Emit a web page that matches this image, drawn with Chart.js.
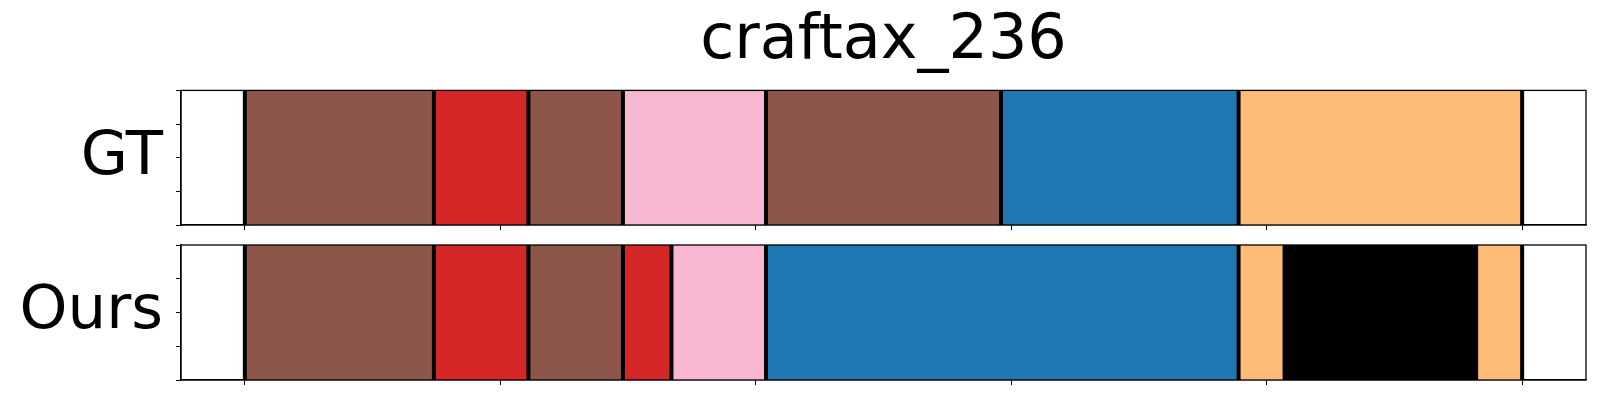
<!DOCTYPE html>
<html>
<head>
<meta charset="utf-8">
<title>craftax_236</title>
<script src="https://cdn.jsdelivr.net/npm/chart.js@4"></script>
<style>
  body { margin: 0; background: #fff; }
  #wrap { position: relative; width: 1600px; height: 400px; }
  #wrap canvas { position: absolute; left: 0; }
  #gtChart { top: 0; }
  #oursChart { top: 235px; }
</style>
</head>
<body>
<div id="wrap">
  <canvas id="gtChart" width="1600" height="235"></canvas>
  <canvas id="oursChart" width="1600" height="165"></canvas>
</div>
<script>
// data (x in frames)
const chartTitle = 'craftax_236';
const rowNames = ['GT', 'Ours'];
const xTicks = [0, 100, 200, 300, 400, 500];
const yTicks = [0, 0.25, 0.5, 0.75, 1];

const gtEdges = [0, 74, 111, 148, 204, 296, 389, 500];
const gtClasses = ['brown', 'red', 'brown', 'pink', 'brown', 'blue', 'orange'];

const oursEdges = [0, 74, 111, 148, 167, 204, 389, 407, 482, 500];
const oursClasses = ['brown', 'red', 'brown', 'red', 'pink', 'blue', 'orange', 'black', 'orange'];

const classColors = {
    brown: '#8c564b',
    red: '#d62728',
    pink: '#f7b6d2',
    blue: '#1f77b4',
    orange: '#ffbb78',
    black: '#000000'
};

Chart.defaults.font.family = '"DejaVu Sans", sans-serif';
Chart.defaults.color = '#000';

// axes box on all four sides, like matplotlib spines
const framePlugin = {
    id: 'frame',
    afterDraw(chart) {
        const a = chart.chartArea;
        const ctx = chart.ctx;
        ctx.save();
        ctx.strokeStyle = '#000';
        ctx.lineWidth = 1.3;
        ctx.strokeRect(a.left, a.top, a.right - a.left, a.bottom - a.top);
        ctx.restore();
    }
};

function makeChart(canvasId, rowName, edges, classes, withTitle) {
    const segments = classes.map((c, i) => ({ x: [edges[i], edges[i + 1]], y: rowName }));

    // one black vertical line per segment edge (full height, on the 0..1 axis)
    const edgeLines = edges.map(e => ({
        type: 'line',
        data: [{ x: e, y: 0 }, { x: e, y: 1 }],
        xAxisID: 'x',
        yAxisID: 'yt',
        borderColor: '#000',
        borderWidth: 4,
        pointRadius: 0,
        fill: false,
        order: 1
    }));

    return new Chart(document.getElementById(canvasId), {
        type: 'bar',
        data: {
            labels: [rowName],
            datasets: [{
                type: 'bar',
                indexAxis: 'y',
                data: segments,
                xAxisID: 'x',
                yAxisID: 'y',
                backgroundColor: classes.map(c => classColors[c]),
                borderWidth: 0,
                barPercentage: 1,
                categoryPercentage: 1,
                order: 2
            }].concat(edgeLines)
        },
        options: {
            responsive: false,
            animation: false,
            devicePixelRatio: 1,
            layout: {
                padding: withTitle ? { top: 0, right: 14, bottom: 0, left: 0 }
                                   : { top: 10, right: 14, bottom: 10, left: 0 }
            },
            plugins: {
                legend: { display: false },
                tooltip: { enabled: false },
                title: {
                    display: withTitle,
                    text: chartTitle,
                    fullSize: false,
                    color: '#000',
                    font: { size: 62, weight: 'normal', lineHeight: 1.2 },
                    padding: { top: 5, bottom: 11 }
                }
            },
            scales: {
                x: {
                    type: 'linear',
                    min: -25,
                    max: 525,
                    offset: false,
                    afterBuildTicks: s => { s.ticks = xTicks.map(v => ({ value: v })); },
                    ticks: { display: false },
                    grid: { offset: false, drawOnChartArea: false, tickLength: 5, color: '#000', tickWidth: 1 },
                    border: { color: '#000', width: 1.3 },
                    afterFit: s => { s.height = 10; }
                },
                yt: {
                    type: 'linear',
                    position: 'left',
                    weight: 0,
                    min: 0,
                    max: 1,
                    offset: false,
                    afterBuildTicks: s => { s.ticks = yTicks.map(v => ({ value: v })); },
                    ticks: { display: false },
                    grid: { offset: false, drawOnChartArea: false, tickLength: 5, color: '#000', tickWidth: 1 },
                    border: { color: '#000', width: 1.3 },
                    afterFit: s => { s.width = 6; }
                },
                y: {
                    type: 'category',
                    position: 'left',
                    weight: 1,
                    offset: true,
                    grid: { display: false, drawTicks: false },
                    border: { display: false },
                    ticks: { color: '#000', font: { size: 61 }, padding: 12 },
                    afterFit: s => {
                        s.width = 175;
                        // big label must not push the plot area
                        s.paddingTop = 0;
                        s.paddingBottom = 0;
                    }
                }
            }
        },
        plugins: [framePlugin]
    });
}

makeChart('gtChart', rowNames[0], gtEdges, gtClasses, true);
makeChart('oursChart', rowNames[1], oursEdges, oursClasses, false);
</script>
</body>
</html>
